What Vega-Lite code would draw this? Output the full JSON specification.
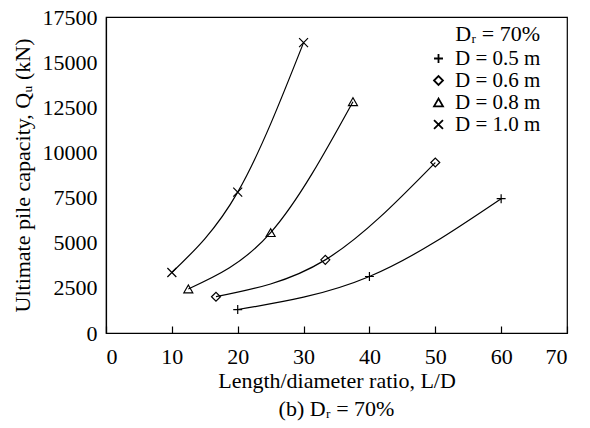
{
  "$schema": "https://vega.github.io/schema/vega-lite/v6.json",
  "width": 461,
  "height": 316,
  "autosize": {"type": "none"},
  "padding": {"left": 106, "top": 17, "right": 23, "bottom": 95},
  "background": "white",
  "config": {
    "font": "Liberation Serif",
    "view": {"stroke": "black", "strokeWidth": 1.2},
    "axis": {
      "domainColor": "black", "domainWidth": 1.2,
      "labelColor": "black", "titleColor": "black", "tickColor": "black",
      "grid": false,
      "labelFont": "Liberation Serif", "titleFont": "Liberation Serif",
      "labelFontSize": 22, "titleFontSize": 22, "titleFontWeight": "normal"
    },
    "legend": {
      "labelFont": "Liberation Serif", "titleFont": "Liberation Serif",
      "labelFontSize": 21, "titleFontSize": 22, "titleFontWeight": "normal",
      "labelColor": "black", "titleColor": "black"
    }
  },
  "title": {
    "text": "(b) Dᵣ = 70%",
    "orient": "bottom",
    "anchor": "middle",
    "font": "Liberation Serif",
    "fontSize": 22,
    "fontWeight": "normal",
    "color": "black",
    "offset": 8
  },
  "data": {
    "values": [
      {"D": "D = 0.5 m", "LD": 20, "Qu": 1300},
      {"D": "D = 0.5 m", "LD": 40, "Qu": 3130},
      {"D": "D = 0.5 m", "LD": 60, "Qu": 7440},
      {"D": "D = 0.6 m", "LD": 16.7, "Qu": 2010},
      {"D": "D = 0.6 m", "LD": 33.3, "Qu": 4050},
      {"D": "D = 0.6 m", "LD": 50, "Qu": 9440},
      {"D": "D = 0.8 m", "LD": 12.5, "Qu": 2440},
      {"D": "D = 0.8 m", "LD": 25, "Qu": 5560},
      {"D": "D = 0.8 m", "LD": 37.5, "Qu": 12810},
      {"D": "D = 1.0 m", "LD": 10, "Qu": 3350},
      {"D": "D = 1.0 m", "LD": 20, "Qu": 7800},
      {"D": "D = 1.0 m", "LD": 30, "Qu": 16080}
    ]
  },
  "encoding": {
    "x": {
      "field": "LD", "type": "quantitative",
      "scale": {"domain": [0, 70], "nice": false},
      "axis": {
        "title": "Length/diameter ratio, L/D",
        "values": [0, 10, 20, 30, 40, 50, 60, 70],
        "tickSize": -7, "tickWidth": 1.2,
        "labelPadding": 20, "titlePadding": 3
      }
    },
    "y": {
      "field": "Qu", "type": "quantitative",
      "scale": {"domain": [0, 17500], "nice": false},
      "axis": {
        "title": "Ultimate pile capacity, Qᵤ (kN)",
        "values": [0, 2500, 5000, 7500, 10000, 12500, 15000, 17500],
        "format": "d",
        "ticks": false,
        "labelPadding": 9, "titlePadding": 8
      }
    }
  },
  "layer": [
    {
      "mark": {"type": "line", "interpolate": "natural", "color": "black", "strokeWidth": 1.2},
      "encoding": {"detail": {"field": "D"}}
    },
    {
      "mark": {"type": "point", "filled": false, "color": "black", "strokeWidth": 1.2, "opacity": 1, "size": 80},
      "encoding": {
        "shape": {
          "field": "D", "type": "nominal",
          "scale": {
            "domain": ["D = 0.5 m", "D = 0.6 m", "D = 0.8 m", "D = 1.0 m"],
            "range": ["M-1,0H1M0,-1V1", "diamond", "triangle-up", "M-1,-1L1,1M-1,1L1,-1"]
          },
          "legend": {
            "title": "Dᵣ = 70%",
            "orient": "none",
            "legendX": 322,
            "legendY": 7,
            "titleAnchor": "end",
            "titlePadding": 2,
            "padding": 0,
            "rowPadding": 0,
            "symbolSize": 80,
            "symbolStrokeWidth": 1.8,
            "symbolStrokeColor": "black",
            "symbolOffset": 0,
            "labelOffset": 6
          }
        }
      }
    }
  ]
}
